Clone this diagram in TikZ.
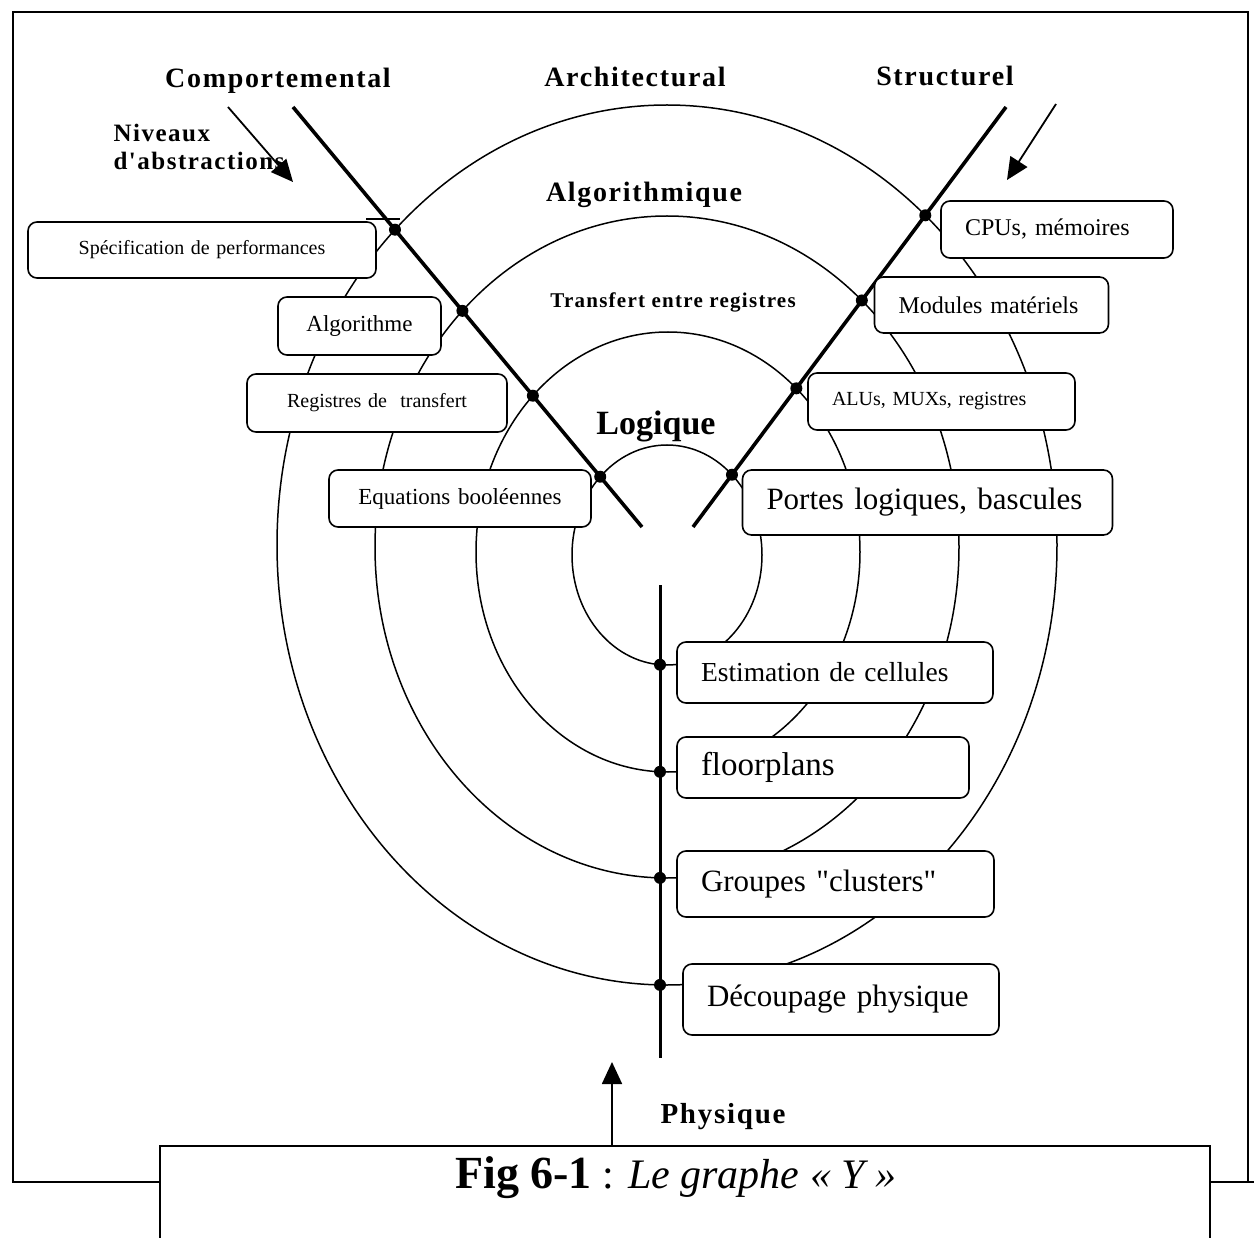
\documentclass[tikz,border=0pt]{standalone}
\usepackage{fontspec}
\setmainfont{Liberation Serif}
\newfontfamily\spaced[LetterSpace=6]{Liberation Serif}
\newfontfamily\rawserif{Liberation Serif}
\usetikzlibrary{arrows.meta,intersections}

\begin{document}
\begin{tikzpicture}[x=1pt,y=-1pt,
  ring/.style={line width=1.5pt},
  arm/.style={line width=3.6pt},
  axis/.style={line width=3pt},
  frame/.style={line width=1.5pt},
  pointer/.style={line width=1.8pt,-{Triangle[length=22pt,width=20pt]}},
  dot/.style={circle,fill=black,inner sep=0pt,minimum size=12pt},
  box/.style={draw,line width=1.6pt,rounded corners=9pt,fill=white,
              inner xsep=24pt,inner ysep=0pt},
  head/.style={anchor=base,font=\spaced\bfseries\fontsize{28}{32}\selectfont},
  fs/.style={font=\fontsize{#1}{#1}\selectfont}
]
\useasboundingbox (0,0) rectangle (1254,1238);
\fill[white] (0,0) rectangle (1254,1238);

% outer frame
\draw[frame] (160,1182) -- (13,1182) -- (13,12) -- (1248,12) -- (1248,1182);
\draw[frame] (1210,1182) -- (1254,1182);

% the four abstraction rings
\draw[ring,name path=r1] (667,555) ellipse [x radius=95pt,y radius=110pt];
\draw[ring,name path=r2] (668,552) ellipse [x radius=192pt,y radius=220pt];
\draw[ring,name path=r3] (667,547) ellipse [x radius=292pt,y radius=331pt];
\draw[ring,name path=r4] (667,545) ellipse [x radius=390pt,y radius=440pt];

% the three axes of the Y
\coordinate (lt) at (293,107);  \coordinate (lb) at (642,527);
\coordinate (rt) at (1006,107); \coordinate (rb) at (693,527);
\coordinate (vt) at (660,585);  \coordinate (vb) at (660,1058);
\draw[arm,name path=larm] (lt) -- (lb);
\draw[arm,name path=rarm] (rt) -- (rb);
\draw[axis,name path=vaxis] (vt) -- (vb);

% crossing points of rings and axes
\path[name intersections={of=r1 and larm,by=l1}];
\path[name intersections={of=r2 and larm,by=l2}];
\path[name intersections={of=r3 and larm,by=l3}];
\path[name intersections={of=r4 and larm,by=l4}];
\path[name intersections={of=r1 and rarm,by=q1}];
\path[name intersections={of=r2 and rarm,by=q2}];
\path[name intersections={of=r3 and rarm,by=q3}];
\path[name intersections={of=r4 and rarm,by=q4}];
\path[name intersections={of=r1 and vaxis,by=v1}];
\path[name intersections={of=r2 and vaxis,by=v2}];
\path[name intersections={of=r3 and vaxis,by=v3}];
\path[name intersections={of=r4 and vaxis,by=v4}];
\foreach \p in {l1,l2,l3,l4,q1,q2,q3,q4,v1,v2,v3,v4}
  \node[dot] (dot-\p) at (\p) {};

% short rule above the specification box
\coordinate (sp0) at (366,219); \coordinate (sp1) at (400,219);
\draw[line width=1.2pt] (sp0) -- (sp1);

% behavioural domain
\node[box,fs=20,text width=300pt,align=center,minimum height=56pt] (spec) at (202,250) {Spécification de performances};
\node[box,fs=23,text width=115pt,align=center,minimum height=58pt] (algo) at (359.5,326) {Algorithme};
\node[box,fs=20,text width=212pt,align=center,minimum height=58pt] (reg) at (377,403) {Registres de\ \ transfert};
\node[box,fs=23,text width=214pt,align=center,minimum height=57pt] (equ) at (460,498.5) {Equations booléennes};

% structural domain
\node[box,fs=24,text width=184pt,align=left,minimum height=57pt] (cpu) at (1057,229.5) {CPUs, mémoires};
\node[box,fs=24,text width=186pt,align=left,minimum height=56pt] (mod) at (991.5,305) {Modules matériels};
\node[box,fs=20,text width=219pt,align=left,minimum height=57pt] (alu) at (941.5,401.5) {ALUs, MUXs, registres};
\node[box,fs=31,text width=322pt,align=left,minimum height=65pt] (gate) at (927.5,502.5) {Portes logiques, bascules};

% physical domain
\node[box,fs=27.5,text width=268pt,align=left,minimum height=61pt] (cell) at (835,672.5) {Estimation de cellules};
\node[box,fs=33,text width=244pt,align=left,minimum height=61pt] (floor) at (823,767.5) {floorplans};
\node[box,font=\rawserif\fontsize{31}{31}\selectfont,text width=269pt,align=left,minimum height=66pt] (clus) at (835.5,884) {Groupes "clusters"};
\node[box,fs=31,text width=268pt,align=left,minimum height=71pt] (part) at (841,999.5) {Découpage physique};

% domain and level titles
\node[head] (comp) at (278,88) {Comportemental};
\node[head] (arch) at (635,87) {Architectural};
\node[head] (struc) at (945,86) {Structurel};
\node[head] (lvalg) at (644,202) {Algorithmique};
\node[head,font=\spaced\bfseries\fontsize{21}{24}\selectfont] (lvrtl) at (673,308) {Transfert entre registres};
\node[anchor=base,font=\bfseries\fontsize{34}{38}\selectfont] (lvlog) at (656,435) {Logique};
\node[head,anchor=base west,font=\spaced\bfseries\fontsize{29}{32}\selectfont] (phys) at (657,1123) {Physique};
\node[anchor=base west,font=\spaced\bfseries\fontsize{25}{28}\selectfont] (niv1) at (110,142) {Niveaux};
\node[anchor=base west,font=\spaced\bfseries\fontsize{25}{28}\selectfont] (niv2) at (110,170) {d'abstractions};

% direction arrows
\coordinate (na0) at (228,107); \coordinate (na1) at (293,182);
\draw[pointer] (na0) -- (na1);
\coordinate (sa0) at (1056,104); \coordinate (sa1) at (1007,180);
\draw[pointer] (sa0) -- (sa1);

% caption box
\draw[frame] (160,1238) -- (160,1146) -- (1210,1146) -- (1210,1238);
\coordinate (pa0) at (612,1146); \coordinate (pa1) at (612,1062);
\draw[pointer] (pa0) -- (pa1);
\node[anchor=base east,font=\fontsize{42}{46}\selectfont] (cap) at (900,1188)
  {{\bfseries\fontsize{46}{50}\selectfont Fig 6-1} : \textit{Le graphe « Y »}};
\end{tikzpicture}
\end{document}
